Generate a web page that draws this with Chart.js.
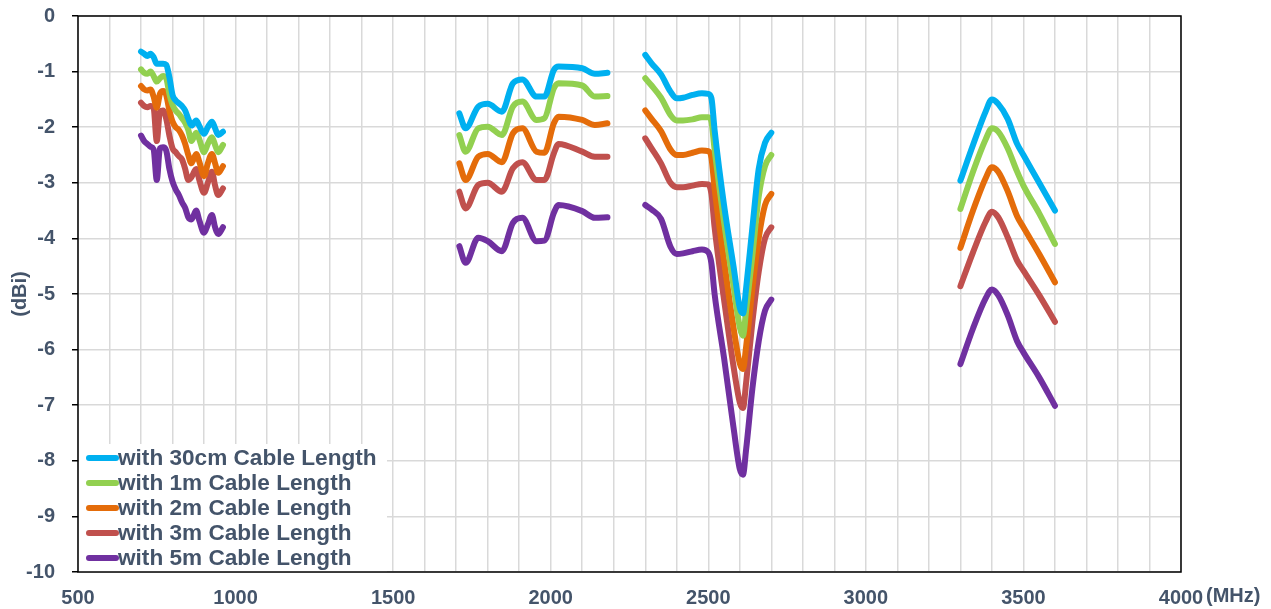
<!DOCTYPE html>
<html>
<head>
<meta charset="utf-8">
<script src="https://cdn.jsdelivr.net/npm/chart.js@4.4.0/dist/chart.umd.min.js"></script>
<style>
  body { margin: 0; background: #fff; }
</style>
</head>
<body>
<canvas id="myChart" width="1271" height="609"></canvas>
<script>
// measured frequencies (MHz), one array per band
const band1MHz = [700, 710, 720, 730, 740, 750, 760, 770, 780, 790, 800, 810, 820, 830, 840, 850, 860, 875, 885, 900, 912, 925, 935, 945, 960];
const band2MHz = [1710, 1730, 1770, 1800, 1845, 1880, 1910, 1955, 1980, 2010, 2025, 2100, 2140, 2180];
const band3MHz = [2300, 2320, 2350, 2380, 2400, 2420, 2450, 2480, 2500, 2510, 2520, 2550, 2580, 2600, 2610, 2620, 2640, 2660, 2680, 2700];
const band4MHz = [3300, 3340, 3380, 3400, 3420, 3450, 3480, 3500, 3550, 3600];

// gain (dBi) per cable length, one sub-array per band
const cable30cm = [
  [-0.64, -0.68, -0.72, -0.68, -0.74, -0.86, -0.86, -0.86, -0.88, -1.10, -1.42, -1.52, -1.57, -1.62, -1.70, -1.85, -1.97, -1.88, -1.98, -2.12, -2.00, -1.90, -2.02, -2.14, -2.08],
  [-1.75, -2.02, -1.63, -1.58, -1.72, -1.21, -1.14, -1.45, -1.45, -0.97, -0.91, -0.94, -1.04, -1.02],
  [-0.70, -0.85, -1.05, -1.36, -1.48, -1.47, -1.42, -1.39, -1.40, -1.48, -2.05, -3.40, -4.50, -5.25, -5.35, -4.90, -3.80, -2.75, -2.28, -2.10],
  [-2.96, -2.32, -1.72, -1.50, -1.58, -1.85, -2.30, -2.50, -3.00, -3.50]
];
const cable1m = [
  [-0.96, -1.02, -1.04, -1.00, -1.08, -1.18, -1.12, -1.08, -1.12, -1.40, -1.60, -1.70, -1.76, -1.84, -1.92, -2.05, -2.25, -2.10, -2.22, -2.45, -2.30, -2.18, -2.32, -2.45, -2.32],
  [-2.14, -2.44, -2.02, -1.99, -2.14, -1.63, -1.54, -1.87, -1.84, -1.30, -1.21, -1.25, -1.45, -1.44],
  [-1.12, -1.25, -1.47, -1.78, -1.88, -1.88, -1.86, -1.82, -1.82, -1.90, -2.40, -3.70, -4.85, -5.60, -5.75, -5.30, -4.30, -3.25, -2.70, -2.50],
  [-3.47, -2.80, -2.22, -2.02, -2.08, -2.38, -2.80, -3.05, -3.55, -4.10]
];
const cable2m = [
  [-1.26, -1.32, -1.34, -1.32, -1.45, -1.65, -1.40, -1.35, -1.42, -1.70, -1.90, -2.00, -2.05, -2.15, -2.30, -2.50, -2.65, -2.48, -2.62, -2.88, -2.65, -2.48, -2.65, -2.82, -2.70],
  [-2.65, -2.95, -2.53, -2.48, -2.63, -2.11, -2.02, -2.44, -2.46, -1.93, -1.81, -1.87, -1.96, -1.93],
  [-1.70, -1.85, -2.07, -2.40, -2.50, -2.50, -2.46, -2.42, -2.43, -2.55, -3.10, -4.40, -5.60, -6.25, -6.35, -5.95, -4.90, -4.00, -3.40, -3.20],
  [-4.17, -3.50, -2.92, -2.72, -2.80, -3.15, -3.60, -3.80, -4.28, -4.79]
];
const cable3m = [
  [-1.56, -1.62, -1.64, -1.62, -1.66, -2.25, -1.72, -1.70, -1.85, -2.15, -2.38, -2.45, -2.52, -2.58, -2.75, -2.95, -2.90, -2.75, -2.95, -3.18, -3.00, -2.80, -3.05, -3.22, -3.10],
  [-3.16, -3.46, -3.04, -3.00, -3.16, -2.74, -2.63, -2.95, -2.95, -2.47, -2.30, -2.44, -2.53, -2.53],
  [-2.20, -2.38, -2.65, -3.00, -3.08, -3.08, -3.05, -3.02, -3.03, -3.20, -3.80, -5.10, -6.30, -6.95, -7.05, -6.60, -5.50, -4.60, -4.00, -3.80],
  [-4.86, -4.25, -3.70, -3.52, -3.62, -3.98, -4.40, -4.58, -5.02, -5.50]
];
const cable5m = [
  [-2.15, -2.25, -2.30, -2.35, -2.40, -2.95, -2.38, -2.36, -2.42, -2.75, -2.98, -3.12, -3.22, -3.35, -3.45, -3.62, -3.66, -3.50, -3.68, -3.90, -3.75, -3.58, -3.80, -3.92, -3.80],
  [-4.14, -4.44, -3.99, -4.05, -4.23, -3.72, -3.63, -4.05, -4.04, -3.54, -3.40, -3.51, -3.63, -3.62],
  [-3.40, -3.48, -3.65, -4.15, -4.28, -4.27, -4.23, -4.20, -4.25, -4.45, -5.00, -6.15, -7.40, -8.15, -8.25, -7.80, -6.70, -5.85, -5.30, -5.10],
  [-6.26, -5.62, -5.08, -4.92, -5.02, -5.38, -5.85, -6.05, -6.50, -7.01]
];

const seriesLabels = ['with 30cm Cable Length', 'with 1m Cable Length', 'with 2m Cable Length', 'with 3m Cable Length', 'with 5m Cable Length'];
const seriesColors = ['#00B0F0', '#92D050', '#E46C0A', '#C0504D', '#7030A0'];
const seriesValues = [cable30cm, cable1m, cable2m, cable3m, cable5m];
const bands = [band1MHz, band2MHz, band3MHz, band4MHz];

const textColor = '#44546A';
const fontFamily = '"Liberation Sans", Arial, sans-serif';

// join the bands into one point list, a null point between bands breaks the line
function buildPoints(values) {
  const pts = [];
  bands.forEach((freqs, b) => {
    if (b > 0) pts.push({ x: (bands[b - 1][bands[b - 1].length - 1] + freqs[0]) / 2, y: null });
    freqs.forEach((f, i) => pts.push({ x: f, y: values[b][i] }));
  });
  return pts;
}

// legend drawn inside the plot, bottom left, on a white box
const innerLegend = {
  id: 'innerLegend',
  afterDatasetsDraw(chart) {
    const ctx = chart.ctx;
    const area = chart.chartArea;
    ctx.save();
    ctx.fillStyle = '#fff';
    ctx.fillRect(area.left + 1, 444, 308, area.bottom - 444);
    ctx.font = 'bold 22.6px ' + fontFamily;
    ctx.textBaseline = 'middle';
    chart.data.datasets.forEach((ds, i) => {
      const y = 458 + i * 25;
      ctx.strokeStyle = ds.borderColor;
      ctx.lineWidth = 6;
      ctx.lineCap = 'round';
      ctx.beginPath();
      ctx.moveTo(area.left + 11, y);
      ctx.lineTo(area.left + 38, y);
      ctx.stroke();
      ctx.fillStyle = textColor;
      ctx.fillText(ds.label, area.left + 40, y + 1);
    });
    // frame round the plot
    ctx.strokeStyle = '#000';
    ctx.lineWidth = 1.5;
    ctx.lineCap = 'butt';
    ctx.strokeRect(area.left, area.top, area.right - area.left, area.bottom - area.top);
    // unit after the last x label
    ctx.font = 'bold 20px ' + fontFamily;
    ctx.fillStyle = textColor;
    ctx.textBaseline = 'middle';
    ctx.fillText('(MHz)', area.right + 25, 596);
    ctx.restore();
  }
};

const ctx = document.getElementById('myChart').getContext('2d');
const myChart = new Chart(ctx, {
  type: 'line',
  data: {
    datasets: seriesLabels.map((label, i) => ({
      label: label,
      data: buildPoints(seriesValues[i]),
      borderColor: seriesColors[i],
      backgroundColor: seriesColors[i],
      borderWidth: 6,
      borderCapStyle: 'round',
      borderJoinStyle: 'round',
      pointRadius: 0,
      fill: false,
      spanGaps: false,
      cubicInterpolationMode: 'monotone'
    }))
  },
  options: {
    responsive: false,
    animation: false,
    layout: { padding: { top: 16, right: 90, left: 0, bottom: 0 } },
    scales: {
      x: {
        type: 'linear',
        min: 500,
        max: 4000,
        afterFit: (scale) => { scale.height = 37; },
        grid: { color: '#D9D9D9', lineWidth: 1.5, drawTicks: false },
        border: { display: false },
        ticks: {
          stepSize: 100,
          autoSkip: false,
          maxRotation: 0,
          padding: 14,
          color: textColor,
          font: { family: fontFamily, size: 20, weight: 'bold' },
          callback: (v) => (v % 500 === 0 ? v : '')
        }
      },
      y: {
        min: -10,
        max: 0,
        afterFit: (scale) => {
          scale.width = 78;
          scale.paddingTop = 0;
          scale.paddingBottom = 0;
        },
        grid: { color: '#D9D9D9', lineWidth: 1.5, tickLength: 6, tickColor: '#000' },
        border: { display: false },
        title: {
          display: true,
          text: '(dBi)',
          color: textColor,
          font: { family: fontFamily, size: 20, weight: 'bold' },
          padding: { top: 8, bottom: 0 }
        },
        ticks: {
          stepSize: 1,
          padding: 17,
          color: textColor,
          font: { family: fontFamily, size: 20, weight: 'bold' }
        }
      }
    },
    plugins: {
      legend: { display: false },
      tooltip: { enabled: false }
    }
  },
  plugins: [innerLegend]
});
</script>
</body>
</html>
